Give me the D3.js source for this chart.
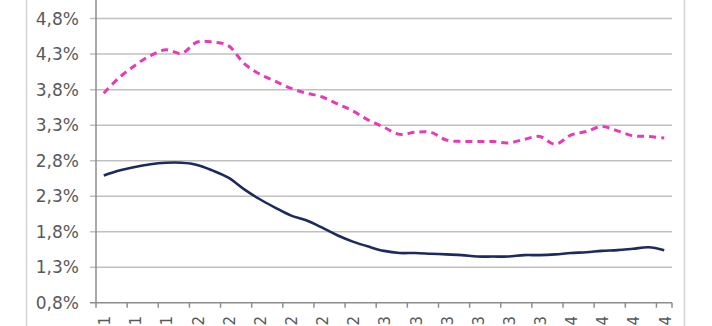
<!DOCTYPE html>
<html lang="en">
	<head>
		<meta charset="utf-8">
		<title>Rates</title>
		<script src="https://d3js.org/d3.v7.min.js"></script>
		<style type="text/css">
            body { margin: 0; background: #fff; }
            svg { display: block; }
		</style>
	</head>
	<body>
        <svg></svg>
		<script type="text/javascript">

			// values in %, one per month (37 categories)
			var navy = [2.59, 2.66, 2.71, 2.75, 2.77, 2.77, 2.74, 2.66, 2.56, 2.40,
			            2.26, 2.14, 2.03, 1.96, 1.86, 1.75, 1.66, 1.59, 1.53, 1.50,
			            1.50, 1.49, 1.48, 1.47, 1.45, 1.45, 1.45, 1.47, 1.47, 1.48,
			            1.50, 1.51, 1.53, 1.54, 1.56, 1.58, 1.54];
			var pink = [3.75, 3.97, 4.14, 4.28, 4.36, 4.31, 4.47, 4.47, 4.42, 4.17,
			            4.02, 3.92, 3.82, 3.75, 3.70, 3.60, 3.50, 3.37, 3.27, 3.17,
			            3.20, 3.20, 3.09, 3.07, 3.07, 3.07, 3.05, 3.10, 3.14, 3.03,
			            3.16, 3.21, 3.28, 3.22, 3.15, 3.14, 3.12];
			// only every 2nd category gets a label (last char visible)
			var tickLabels = ["1","1","1","2","2","2","2","2","2","3","3","3","3","3","3","4","4","4","4"];
			var yTicks = [0.8, 1.3, 1.8, 2.3, 2.8, 3.3, 3.8, 4.3, 4.8];

			var w = 712, h = 326;
			var left = 96, right = 672, bottom = 302.7;

			var svg = d3.select("svg")
						.attr("width", w)
						.attr("height", h);

			// chart area frame
			svg.append("rect")
				.attr("x", 26.5).attr("y", -10)
				.attr("width", 658).attr("height", h + 20)
				.attr("fill", "none")
				.attr("stroke", "#d4d4d4")
				.attr("stroke-width", 1.5);

			var cats = d3.range(navy.length);
			var x = d3.scaleBand().domain(cats).range([left, right]);
			var y = d3.scaleLinear().domain([0.8, 4.8]).range([bottom, 18.6]);

			// gridlines
			svg.selectAll("line.grid")
				.data(yTicks).enter()
				.append("line")
				.attr("class", "grid")
				.attr("x1", left - 6).attr("x2", right)
				.attr("y1", d => y(d)).attr("y2", d => y(d))
				.attr("stroke", d => d === 0.8 ? "#8c8c8c" : "#c0c0c0")
				.attr("stroke-width", 1.5);

			// y axis
			svg.append("line")
				.attr("x1", left).attr("x2", left)
				.attr("y1", 0).attr("y2", bottom)
				.attr("stroke", "#8c8c8c")
				.attr("stroke-width", 1.5);

			var fmt = d => d.toFixed(1).replace(".", ",") + "%";
			svg.selectAll("text.ylab")
				.data(yTicks).enter()
				.append("text")
				.attr("class", "ylab")
				.attr("x", 79)
				.attr("y", d => y(d))
				.attr("dy", "0.36em")
				.attr("text-anchor", "end")
				.attr("font-family", "DejaVu Sans")
				.attr("font-size", 17)
				.attr("fill", "#595959")
				.text(fmt);

			// x ticks every 2 categories
			var tickCats = cats.filter(i => i % 2 === 0);
			svg.selectAll("line.xtick")
				.data(tickCats.concat([cats.length])).enter()
				.append("line")
				.attr("class", "xtick")
				.attr("x1", i => left + x.step() * i).attr("x2", i => left + x.step() * i)
				.attr("y1", bottom).attr("y2", bottom + 5)
				.attr("stroke", "#8c8c8c")
				.attr("stroke-width", 1.5);

			svg.selectAll("text.xlab")
				.data(tickCats).enter()
				.append("text")
				.attr("class", "xlab")
				.attr("transform", d => "translate(" + (x(d) + x.bandwidth() / 2 + 1) + ",316) rotate(-90)")
				.attr("dy", "0.36em")
				.attr("text-anchor", "end")
				.attr("font-family", "DejaVu Sans")
				.attr("font-size", 15)
				.attr("fill", "#595959")
				.text((d, i) => tickLabels[i]);

			var line = d3.line()
				.x((d, i) => x(i) + x.bandwidth() / 2)
				.y(d => y(d))
				.curve(d3.curveCatmullRom.alpha(0.5));

			svg.append("path")
				.attr("d", line(pink))
				.attr("fill", "none")
				.attr("stroke", "#e83ab4")
				.attr("stroke-width", 3)
				.attr("stroke-dasharray", "7,5");

			svg.append("path")
				.attr("d", line(navy))
				.attr("fill", "none")
				.attr("stroke", "#1c2a5e")
				.attr("stroke-width", 2.6);
		</script>
	</body>
</html>
